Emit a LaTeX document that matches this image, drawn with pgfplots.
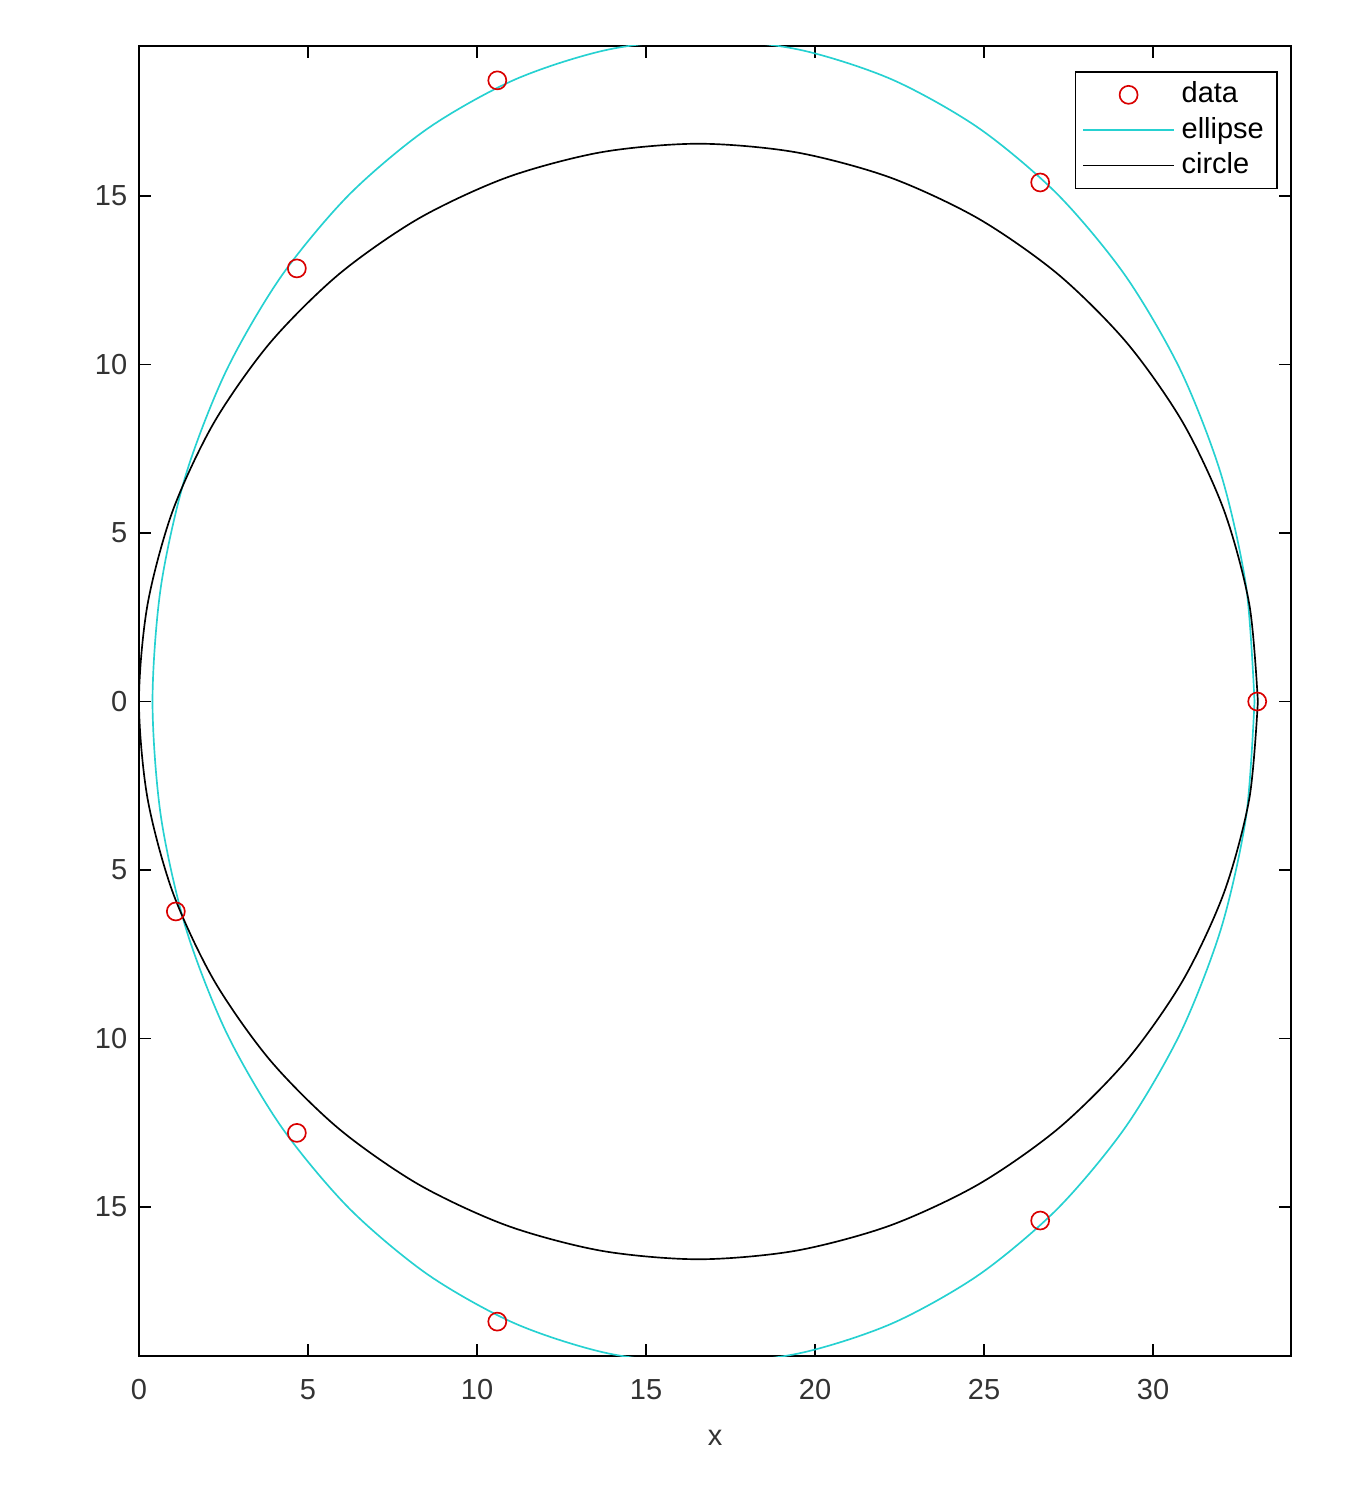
\documentclass[border=0pt]{standalone}
\usepackage{pgfplots}
\pgfplotsset{compat=1.18}
\usepackage{fontspec}
\setmainfont{Liberation Sans}
\definecolor{mcyan}{rgb}{0.15,0.82,0.82}
\begin{document}
\begin{tikzpicture}
\begin{axis}[
  name=ax,
  scale only axis,
  width=345.6pt, height=393pt,
  xmin=0, xmax=34.08, ymin=-19.42, ymax=19.45,
  xtick={0,5,...,30},
  ytick={-15,-10,-5,0,5,10,15},
  yticklabels={15,10,5,0,5,10,15},
  tick align=inside,
  major tick length=3.6pt,
  tick style={black, line width=0.5pt},
  axis line style={black, line width=0.6pt},
  xtick pos=both, ytick pos=both,
  /pgf/number format/assume math mode=true,
  ticklabel style={font=\fontsize{8.7}{10}\selectfont, text=black!80},
  xticklabel style={yshift=-3.4pt},
  xlabel={x},
  xlabel style={font=\fontsize{8.7}{10}\selectfont, text=black!80, yshift=-2.4pt},
  legend style={at={(1,1)}, anchor=north east, xshift=-3.9pt, yshift=-7.5pt,
    font=\fontsize{8.7}{10}\selectfont, draw=black, line width=0.5pt,
    inner xsep=2pt, inner ysep=1pt, row sep=-1.2pt},
  legend cell align=left,
  legend image code/.code={\draw[mark repeat=2,mark phase=2,#1] plot coordinates {(0cm,0cm) (0.48cm,0cm) (0.96cm,0cm)};},
]
\addplot[only marks, mark=o, mark size=2.7pt, red!85!black, mark options={line width=0.5pt}] coordinates {
(33.08,0) (26.66,15.4) (10.6,18.43) (4.67,12.85)
(1.09,-6.23) (4.67,-12.8) (10.6,-18.4) (26.66,-15.4)
};
\addlegendentry{data}
\addplot[mcyan, line width=0.5pt, smooth] coordinates {
(33.0,0) (32.752,3.410) (32.017,6.717) (30.816,9.82) (29.186,12.625) (27.178,15.044) (24.85,17.008) (22.275,18.456) (19.53,19.341) (16.7,19.64)
(13.87,19.341) (11.125,18.456) (8.55,17.008) (6.222,15.044) (4.214,12.625) (2.584,9.82) (1.383,6.717) (0.648,3.410) (0.4,0)
(0.648,-3.410) (1.383,-6.717) (2.584,-9.82) (4.214,-12.625) (6.222,-15.044) (8.55,-17.008) (11.125,-18.456) (13.87,-19.341) (16.7,-19.64)
(19.53,-19.341) (22.275,-18.456) (24.85,-17.008) (27.178,-15.044) (29.186,-12.625) (30.816,-9.82) (32.017,-6.717) (32.752,-3.410) (33.0,0)
};
\addlegendentry{ellipse}
\addplot[black, line width=0.5pt, smooth] coordinates {
(33.1,0) (32.848,2.873) (32.102,5.660) (30.882,8.275) (29.227,10.638) (27.188,12.677) (24.825,14.332) (22.21,15.552) (19.423,16.298) (16.55,16.55)
(13.677,16.298) (10.89,15.552) (8.275,14.332) (5.912,12.677) (3.873,10.638) (2.218,8.275) (0.998,5.660) (0.252,2.873) (0.0,0)
(0.252,-2.873) (0.998,-5.660) (2.218,-8.275) (3.873,-10.638) (5.912,-12.677) (8.275,-14.332) (10.89,-15.552) (13.677,-16.298) (16.55,-16.55)
(19.423,-16.298) (22.21,-15.552) (24.825,-14.332) (27.188,-12.677) (29.227,-10.638) (30.882,-8.275) (32.102,-5.660) (32.848,-2.873) (33.1,0)
};
\addlegendentry{circle}
\end{axis}
\path (ax.south west) ++(-41.7pt,-42.6pt);
\path (ax.north east) ++(19.2pt,13.8pt);
\end{tikzpicture}
\end{document}
